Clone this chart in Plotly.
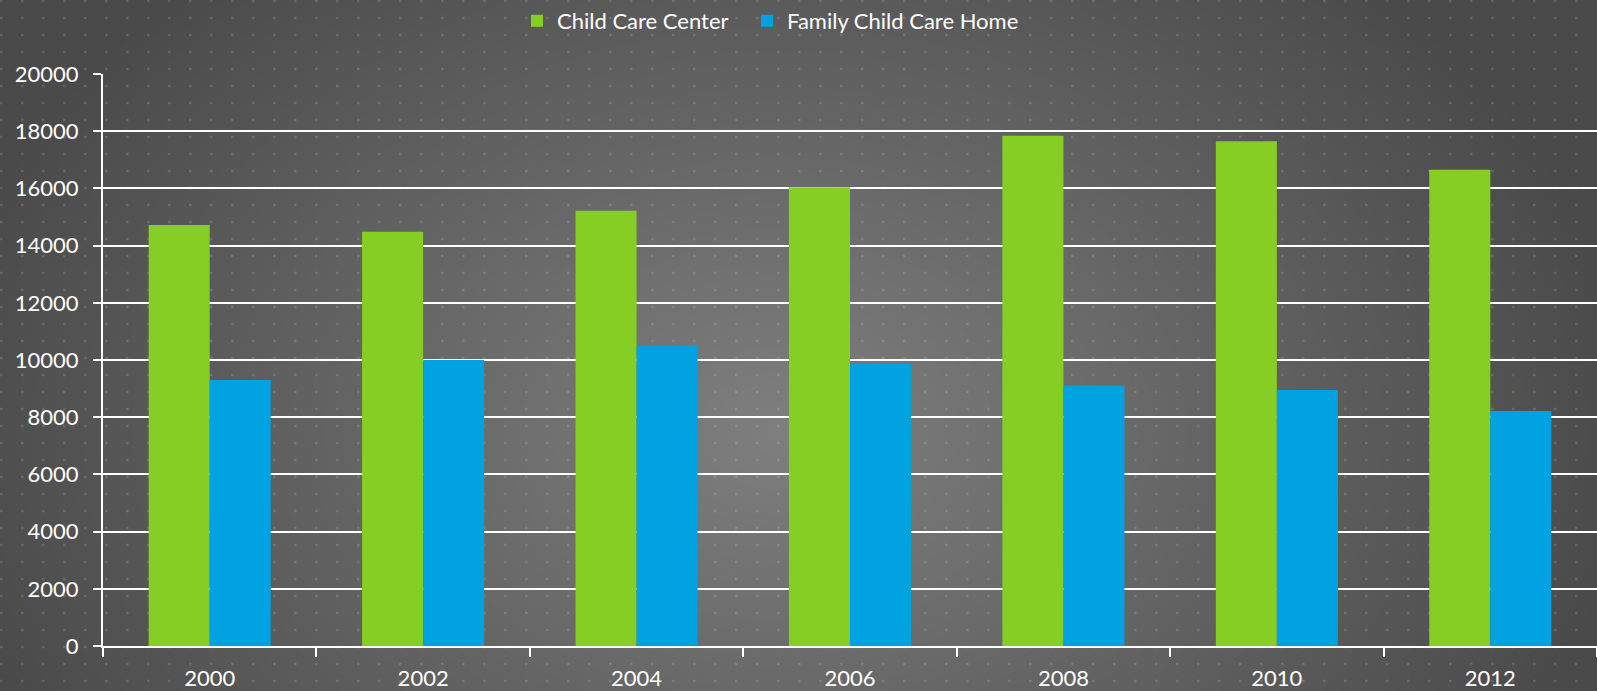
import numpy as np
import plotly.graph_objects as go

years = ["2000", "2002", "2004", "2006", "2008", "2010", "2012"]
child_care_center = [14720, 14480, 15220, 16040, 17840, 17650, 16650]
family_child_care_home = [9300, 10000, 10510, 9870, 9100, 8950, 8220]
y_ticks = [0, 2000, 4000, 6000, 8000, 10000, 12000, 14000, 16000, 18000, 20000]
y_tick_labels = ["0", "2000", "4000", "6000", "8000", "10000", "12000", "14000", "16000", "18000", "20000"]

W, H = 1597, 691
FONT = "Lato, 'Open Sans', sans-serif"

# background gradient (decoration)
gx = np.linspace(0, W, 80)
gy = np.linspace(0, H, 40)
GX, GY = np.meshgrid(gx, gy)
r = np.sqrt(((GX - 780) / 850) ** 2 + ((GY - 430) / 620) ** 2)
Z = np.clip(1 - r, 0, 1)

# dotted texture (decoration)
dx = np.arange(1.3, W, 21)
dy = np.arange(1, H, 17)
DX, DY = np.meshgrid(dx, dy)

fig = go.Figure()
fig.add_trace(go.Heatmap(
    x=gx, y=gy, z=Z, zsmooth="best", showscale=False, hoverinfo="skip",
    colorscale=[[0, "#4a4a4a"], [1, "#7e7e7e"]], xaxis="x", yaxis="y"))
fig.add_trace(go.Scatter(
    x=DX.ravel(), y=DY.ravel(), mode="markers", hoverinfo="skip", showlegend=False,
    marker=dict(size=2.5, color="rgba(255,255,255,0.14)", symbol="square"),
    xaxis="x", yaxis="y"))

fig.add_trace(go.Bar(name="Child Care Center", x=years, y=child_care_center,
                     marker=dict(color="#86CD24", line=dict(width=0)),
                     xaxis="x2", yaxis="y2", legend="legend"))
fig.add_trace(go.Bar(name="Family Child Care Home", x=years, y=family_child_care_home,
                     marker=dict(color="#00A2E2", line=dict(width=0)),
                     xaxis="x2", yaxis="y2", legend="legend2"))

leg_common = dict(orientation="h", xanchor="left", y=1 - 21 / H, yanchor="middle",
                  font=dict(size=22, color="white"), bgcolor="rgba(0,0,0,0)",
                  itemwidth=30)

fig.update_layout(
    template="none",
    width=W, height=H,
    margin=dict(l=0, r=0, t=0, b=0),
    paper_bgcolor="#5a5a5a",
    plot_bgcolor="rgba(0,0,0,0)",
    font=dict(family=FONT, color="white", size=22),
    barmode="group", bargap=0.428, bargroupgap=0,
    showlegend=True,
    legend=dict(x=517 / W, **leg_common),
    legend2=dict(x=747 / W, **leg_common),
    xaxis=dict(domain=[0, 1], range=[0, W], visible=False, fixedrange=True),
    yaxis=dict(domain=[0, 1], range=[H, 0], visible=False, fixedrange=True),
    xaxis2=dict(domain=[103 / W, 1], anchor="y2", type="category",
                showline=True, linecolor="white", linewidth=2,
                ticks="outside", tickson="boundaries", ticklen=9, tickwidth=2,
                tickcolor="white", showgrid=False, automargin=False,
                tickfont=dict(size=22, color="white"), ticklabelstandoff=12),
    yaxis2=dict(domain=[45 / H, 1 - 74 / H], anchor="x2", range=[0, 20000],
                tickvals=y_ticks, ticktext=y_tick_labels, showline=True, linecolor="white", linewidth=2,
                ticks="outside", ticklen=8, tickwidth=2, tickcolor="white",
                showgrid=True, gridcolor="white", gridwidth=2, zeroline=False,
                automargin=False, tickfont=dict(size=22, color="white"),
                ticklabelstandoff=10),
)

# top gridline at 20000 (plotly omits grid at the axis edge)
fig.add_shape(type="line", xref="x2 domain", yref="y2", x0=0, x1=1, y0=20000, y1=20000,
              line=dict(color="white", width=2), layer="below")

fig.write_html("out.html", config={"displayModeBar": False},
               post_script="document.body.style.margin='0px';document.body.style.overflow='hidden';")
